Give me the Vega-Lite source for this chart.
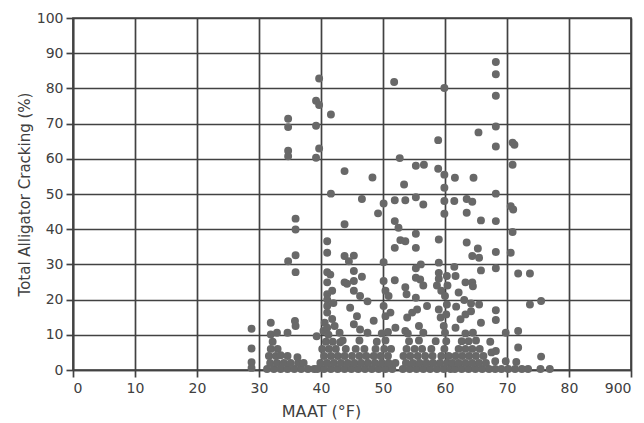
{
  "$schema": "https://vega.github.io/schema/vega-lite/v6.json",
  "width": 558,
  "height": 352,
  "autosize": "none",
  "padding": {"left": 73, "top": 18, "right": 13, "bottom": 53},
  "background": "white",
  "config": {
    "view": {"stroke": "#424242", "strokeWidth": 1.7},
    "axis": {
      "grid": true,
      "gridColor": "#424242",
      "gridWidth": 1.7,
      "gridOpacity": 1,
      "domainColor": "#424242",
      "domainWidth": 1.7,
      "tickColor": "#424242",
      "tickWidth": 1.7,
      "tickSize": 7,
      "labelFont": "DejaVu Sans",
      "labelFontSize": 14,
      "labelColor": "#404040",
      "titleFont": "DejaVu Sans",
      "titleFontSize": 15,
      "titleFontWeight": "normal",
      "titleColor": "#404040"
    }
  },
  "data": {"values": [
    {"m":39.7,"c":82.8},{"m":51.8,"c":81.8},{"m":39.2,"c":76.5},{"m":39.7,"c":75.3},{"m":41.6,"c":72.6},{"m":34.7,"c":71.4},{"m":34.7,"c":69.0},{"m":39.2,"c":69.4},{"m":34.7,"c":62.3},{"m":34.7,"c":60.7},{"m":39.7,"c":62.9},{"m":39.2,"c":60.3},{"m":43.8,"c":56.5},{"m":48.3,"c":54.7},{"m":52.7,"c":60.2},{"m":55.3,"c":58.0},{"m":56.6,"c":58.3},{"m":58.9,"c":65.3},{"m":58.9,"c":57.2},{"m":53.4,"c":52.7},{"m":41.6,"c":50.1},{"m":46.6,"c":48.6},{"m":51.9,"c":48.2},{"m":50.1,"c":47.3},{"m":53.6,"c":48.2},{"m":55.3,"c":49.1},{"m":56.5,"c":47.0},{"m":68.2,"c":87.5},{"m":68.2,"c":84.0},{"m":59.9,"c":80.1},{"m":68.2,"c":77.9},{"m":68.2,"c":69.2},{"m":65.4,"c":67.5},{"m":68.2,"c":63.5},{"m":70.9,"c":64.6},{"m":71.2,"c":64.0},{"m":70.9,"c":58.3},{"m":59.9,"c":55.5},{"m":61.6,"c":54.6},{"m":64.6,"c":54.6},{"m":59.9,"c":51.8},{"m":68.2,"c":50.1},{"m":59.9,"c":48.0},{"m":61.5,"c":48.0},{"m":63.5,"c":48.6},{"m":64.4,"c":47.8},{"m":70.6,"c":46.5},{"m":71.0,"c":45.6},
    {"m":35.9,"c":43.0},{"m":35.9,"c":39.9},{"m":43.8,"c":41.4},{"m":41.0,"c":36.6},{"m":41.0,"c":33.3},{"m":43.8,"c":32.4},{"m":35.9,"c":32.6},{"m":34.7,"c":30.9},{"m":35.9,"c":27.8},{"m":41.0,"c":27.8},{"m":41.5,"c":27.1},{"m":41.0,"c":24.9},{"m":43.8,"c":24.9},{"m":49.2,"c":44.5},{"m":59.9,"c":44.4},{"m":51.9,"c":42.3},{"m":52.5,"c":40.4},{"m":55.3,"c":38.7},{"m":52.8,"c":36.9},{"m":53.6,"c":36.6},{"m":59.0,"c":37.1},{"m":51.9,"c":34.7},{"m":55.3,"c":34.7},{"m":45.3,"c":32.5},{"m":44.5,"c":30.9},{"m":50.1,"c":30.6},{"m":45.3,"c":28.1},{"m":46.6,"c":26.5},{"m":55.3,"c":28.9},{"m":56.1,"c":30.0},{"m":59.0,"c":30.5},{"m":59.0,"c":27.6},{"m":59.0,"c":25.9},{"m":60.3,"c":26.7},{"m":55.3,"c":26.2},{"m":56.0,"c":25.7},{"m":50.1,"c":25.3},{"m":51.9,"c":25.5},{"m":45.3,"c":25.3},{"m":63.5,"c":44.7},{"m":65.8,"c":42.5},{"m":68.2,"c":42.3},{"m":70.9,"c":39.2},{"m":63.5,"c":36.2},{"m":65.3,"c":34.5},{"m":68.2,"c":33.5},{"m":70.6,"c":33.3},{"m":64.4,"c":32.4},{"m":65.5,"c":31.9},{"m":61.5,"c":29.3},{"m":65.8,"c":28.3},{"m":68.2,"c":28.9},{"m":71.8,"c":27.4},{"m":73.7,"c":27.4},{"m":61.7,"c":26.7},{"m":63.3,"c":24.9},{"m":64.4,"c":24.9},
    {"m":41.0,"c":21.5},{"m":41.0,"c":20.0},{"m":41.0,"c":18.2},{"m":41.0,"c":16.3},{"m":41.8,"c":22.5},{"m":42.0,"c":19.0},{"m":41.8,"c":14.5},{"m":40.6,"c":13.4},{"m":40.4,"c":11.1},{"m":41.0,"c":12.0},{"m":42.2,"c":12.5},{"m":39.3,"c":9.6},
    {"m":44.2,"c":24.5},{"m":45.3,"c":22.5},{"m":46.3,"c":21.0},{"m":50.4,"c":22.5},{"m":50.9,"c":21.0},{"m":53.6,"c":23.5},{"m":53.8,"c":21.5},{"m":55.3,"c":20.5},{"m":56.5,"c":24.0},{"m":58.7,"c":24.0},{"m":59.4,"c":22.5},{"m":60.4,"c":24.0},
    {"m":44.7,"c":17.7},{"m":45.8,"c":15.3},{"m":45.3,"c":13.0},{"m":46.3,"c":11.5},{"m":50.1,"c":18.2},{"m":50.4,"c":15.3},{"m":51.2,"c":16.3},{"m":52.0,"c":12.0},{"m":53.6,"c":11.1},{"m":53.9,"c":14.9},{"m":54.7,"c":16.3},{"m":55.5,"c":17.2},{"m":57.1,"c":18.2},{"m":55.8,"c":12.5},{"m":59.0,"c":17.2},{"m":59.3,"c":14.9},{"m":59.8,"c":12.5},{"m":60.3,"c":18.6},{"m":60.0,"c":21.0},{"m":60.2,"c":15.8},{"m":47.5,"c":19.5},{"m":48.5,"c":14.0},
    {"m":64.5,"c":23.8},{"m":73.7,"c":18.6},{"m":75.5,"c":19.6},{"m":68.2,"c":17.0},{"m":68.2,"c":14.2},{"m":63.1,"c":19.9},{"m":64.2,"c":18.9},{"m":65.5,"c":18.6},{"m":64.2,"c":16.7},{"m":63.3,"c":15.8},{"m":62.5,"c":14.4},{"m":65.8,"c":13.4},{"m":61.7,"c":12.0},{"m":69.8,"c":10.6},{"m":71.8,"c":11.1},{"m":62.2,"c":22.0},{"m":61.8,"c":18.0},
    {"m":31.9,"c":13.4},{"m":35.8,"c":13.9},{"m":35.9,"c":12.5},{"m":28.8,"c":11.7},
    {"m":28.8,"c":6.1},{"m":28.8,"c":2.2},{"m":28.8,"c":0.6},{"m":71.8,"c":6.4},{"m":68.2,"c":5.4},{"m":75.5,"c":3.8},{"m":43.1,"c":7.9},
    {"m":31.3,"c":0.3},{"m":32.4,"c":0.3},{"m":33.5,"c":0.3},{"m":34.6,"c":0.3},{"m":35.7,"c":0.3},{"m":36.8,"c":0.3},{"m":37.9,"c":0.3},{"m":38.9,"c":0.3},
    {"m":31.8,"c":2.0},{"m":32.9,"c":2.0},{"m":34.0,"c":2.0},{"m":35.1,"c":2.0},{"m":36.3,"c":2.0},{"m":37.2,"c":2.0},
    {"m":31.6,"c":4.0},{"m":32.7,"c":4.0},{"m":33.5,"c":4.2},{"m":34.6,"c":4.0},{"m":36.2,"c":3.6},
    {"m":31.9,"c":6.0},{"m":33.0,"c":6.0},{"m":32.2,"c":8.0},
    {"m":31.9,"c":10.1},{"m":32.9,"c":10.6},{"m":34.6,"c":10.6},
    {"m":39.4,"c":0.3},{"m":40.5,"c":0.3},{"m":41.6,"c":0.3},{"m":42.7,"c":0.3},{"m":43.8,"c":0.3},{"m":44.9,"c":0.3},{"m":46.0,"c":0.3},{"m":47.1,"c":0.3},{"m":48.2,"c":0.3},{"m":49.3,"c":0.3},{"m":50.4,"c":0.3},{"m":51.5,"c":0.3},
    {"m":39.9,"c":2.0},{"m":41.0,"c":2.0},{"m":42.1,"c":2.0},{"m":43.2,"c":2.0},{"m":44.3,"c":2.0},{"m":45.4,"c":2.0},{"m":46.5,"c":2.0},{"m":47.6,"c":2.0},{"m":48.7,"c":2.0},{"m":49.8,"c":2.0},{"m":50.9,"c":2.0},{"m":52.0,"c":2.0},
    {"m":40.5,"c":4.0},{"m":41.6,"c":4.0},{"m":42.7,"c":4.0},{"m":43.8,"c":4.0},{"m":45.0,"c":4.0},{"m":46.2,"c":4.0},{"m":47.3,"c":4.0},{"m":48.5,"c":4.0},{"m":49.6,"c":4.0},{"m":50.8,"c":4.0},
    {"m":40.2,"c":6.0},{"m":41.3,"c":6.0},{"m":42.4,"c":6.0},{"m":44.0,"c":6.0},{"m":45.6,"c":6.0},{"m":47.0,"c":6.0},{"m":48.8,"c":6.0},{"m":50.2,"c":6.0},{"m":51.3,"c":6.0},
    {"m":40.8,"c":8.0},{"m":41.9,"c":8.0},{"m":43.5,"c":8.4},{"m":46.2,"c":8.4},{"m":49.0,"c":8.0},{"m":50.4,"c":8.4},
    {"m":41.2,"c":10.0},{"m":43.0,"c":10.6},{"m":47.5,"c":10.6},{"m":49.8,"c":10.4},{"m":50.8,"c":10.8},
    {"m":53.2,"c":0.3},{"m":54.3,"c":0.3},{"m":55.4,"c":0.3},{"m":56.5,"c":0.3},{"m":57.6,"c":0.3},{"m":58.7,"c":0.3},{"m":59.8,"c":0.3},{"m":60.9,"c":0.3},
    {"m":53.7,"c":2.0},{"m":54.8,"c":2.0},{"m":55.9,"c":2.0},{"m":57.0,"c":2.0},{"m":58.1,"c":2.0},{"m":59.2,"c":2.0},{"m":60.3,"c":2.0},
    {"m":53.3,"c":4.0},{"m":54.4,"c":4.0},{"m":55.6,"c":4.0},{"m":56.8,"c":4.0},{"m":58.0,"c":4.0},{"m":59.4,"c":4.0},{"m":60.6,"c":4.0},
    {"m":53.8,"c":6.0},{"m":55.1,"c":6.0},{"m":56.3,"c":6.0},{"m":57.8,"c":6.0},{"m":59.9,"c":6.0},
    {"m":54.2,"c":8.2},{"m":55.8,"c":8.4},{"m":58.5,"c":8.2},{"m":60.2,"c":8.2},
    {"m":54.0,"c":10.4},{"m":56.5,"c":10.6},{"m":60.0,"c":10.6},
    {"m":61.6,"c":0.3},{"m":62.7,"c":0.3},{"m":63.8,"c":0.3},{"m":64.9,"c":0.3},{"m":66.0,"c":0.3},{"m":67.1,"c":0.3},
    {"m":61.2,"c":2.0},{"m":62.2,"c":2.0},{"m":63.3,"c":2.0},{"m":64.4,"c":2.0},{"m":65.5,"c":2.0},{"m":66.6,"c":2.0},
    {"m":61.7,"c":4.0},{"m":62.8,"c":4.0},{"m":63.9,"c":4.0},{"m":65.0,"c":4.0},{"m":66.2,"c":4.0},
    {"m":62.2,"c":6.0},{"m":63.3,"c":6.0},{"m":64.4,"c":6.0},{"m":65.6,"c":6.0},
    {"m":62.7,"c":8.2},{"m":63.8,"c":8.2},{"m":65.0,"c":8.4},
    {"m":63.3,"c":10.4},{"m":64.5,"c":10.6},{"m":67.3,"c":8.0},{"m":67.5,"c":5.0},
    {"m":68.1,"c":0.3},{"m":69.1,"c":0.3},{"m":70.2,"c":0.3},{"m":71.3,"c":0.3},{"m":72.4,"c":0.3},{"m":73.4,"c":0.3},{"m":75.4,"c":0.3},{"m":76.9,"c":0.3},
    {"m":68.1,"c":2.5},{"m":69.8,"c":2.5},{"m":71.5,"c":2.3}
  ]},
  "mark": {"type": "point", "filled": true, "size": 63, "color": "#686868", "opacity": 1},
  "encoding": {
    "x": {
      "field": "m", "type": "quantitative",
      "scale": {"domain": [0, 90], "nice": false, "zero": false},
      "axis": {
        "values": [0, 10, 20, 30, 40, 50, 60, 70, 80, 90],
        "labelExpr": "datum.value == 90 ? '900' : datum.label",
        "labelPadding": 4,
        "title": "MAAT (°F)",
        "titleFontSize": 16,
        "titleX": 248,
        "titleY": 41,
        "titleBaseline": "middle",
        "titleAlign": "center",
        "titleAnchor": "start"
      }
    },
    "y": {
      "field": "c", "type": "quantitative",
      "scale": {"domain": [0, 100], "nice": false},
      "axis": {
        "values": [0, 10, 20, 30, 40, 50, 60, 70, 80, 90, 100],
        "labelPadding": 3,
        "title": "Total Alligator Cracking (%)",
        "titlePadding": 4
      }
    }
  }
}
